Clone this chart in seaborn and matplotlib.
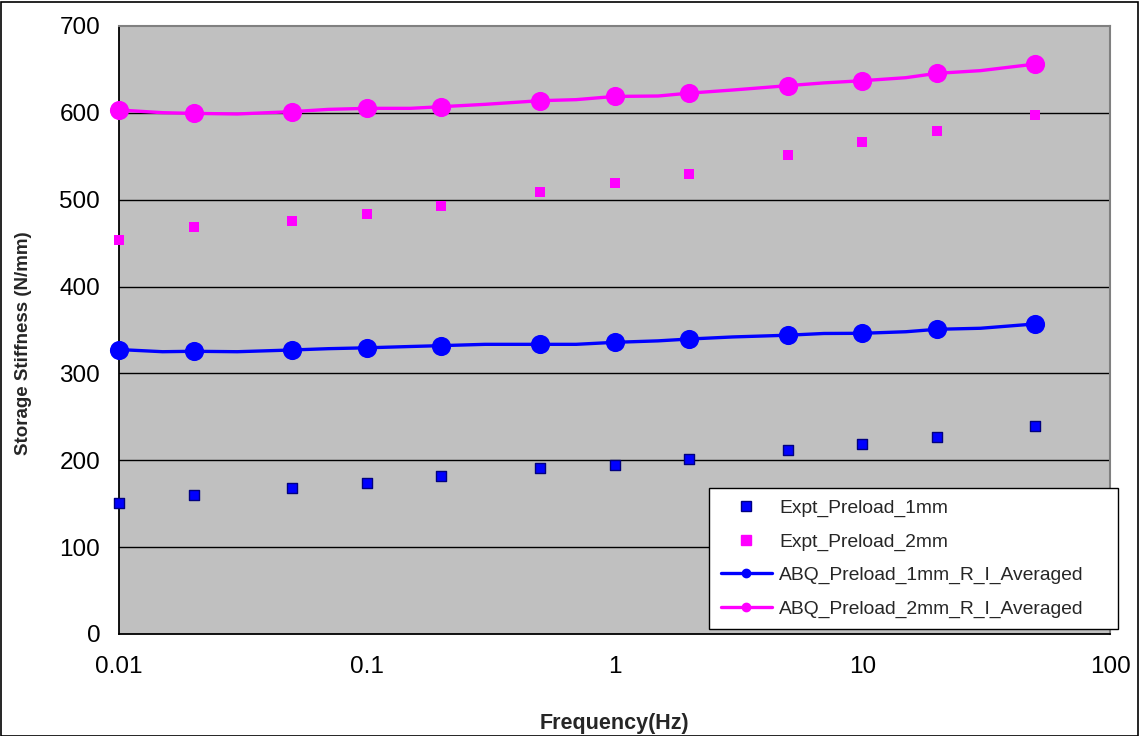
import matplotlib
matplotlib.use("Agg")
import matplotlib.pyplot as plt
import seaborn as sns
import pandas as pd
from matplotlib.lines import Line2D
from matplotlib.patches import Rectangle
from matplotlib.ticker import FixedLocator, FixedFormatter, NullLocator

# ---------------- data ----------------
expt_freq = [0.01, 0.02, 0.05, 0.1, 0.2, 0.5, 1, 2, 5, 10, 20, 50]
expt_1mm = [151, 160, 168, 174, 182, 191, 195, 201, 212, 219, 227, 239]
expt_2mm = [454, 469, 475, 484, 493, 509, 519, 530, 551, 566, 579, 598]

abq_freq = [0.01, 0.015, 0.02, 0.03, 0.05, 0.07, 0.1, 0.15, 0.2, 0.3, 0.5, 0.7,
            1, 1.5, 2, 3, 5, 7, 10, 15, 20, 30, 50]
abq_1mm = [327.5, 325, 325.5, 325, 327, 328.5, 329.5, 331, 332, 333.5, 333.5, 333.5,
           335.8, 337.5, 339.6, 342, 344, 346, 346.2, 348, 350.8, 352, 357]
abq_2mm = [603.3, 600.2, 599.4, 598.7, 601.4, 604, 605.2, 605.2, 607.1, 609.8, 614, 615.2,
           618.9, 619.4, 622.7, 626.3, 631.3, 634.5, 637, 640.5, 645.5, 648.6, 656.2]
abq_marker_freq = [0.01, 0.02, 0.05, 0.1, 0.2, 0.5, 1, 2, 5, 10, 20, 50]

x_ticks = [0.01, 0.1, 1, 10, 100]
x_ticklabels = ["0.01", "0.1", "1", "10", "100"]
y_ticks = [0, 100, 200, 300, 400, 500, 600, 700]

labels = ["Expt_Preload_1mm", "Expt_Preload_2mm",
          "ABQ_Preload_1mm_R_I_Averaged", "ABQ_Preload_2mm_R_I_Averaged"]

BLUE = "#0000FF"
MAG = "#FF00FF"

# ---------------- figure ----------------
sns.set_style("white")
plt.rcParams["font.family"] = ["Liberation Sans", "DejaVu Sans"]

fig = plt.figure(figsize=(11.39, 7.36), dpi=100)
fig.subplots_adjust(left=119 / 1139, right=1110 / 1139, top=1 - 26 / 736, bottom=1 - 634 / 736)
ax = fig.add_subplot(111)
ax.set_facecolor("#C0C0C0")
ax.set_xscale("log")

df_abq = pd.DataFrame({"f": abq_freq, "a1": abq_1mm, "a2": abq_2mm})
df_abq_m = df_abq[df_abq["f"].isin(abq_marker_freq)]
df_exp = pd.DataFrame({"f": expt_freq, "e1": expt_1mm, "e2": expt_2mm})

# ABQ lines
sns.lineplot(data=df_abq, x="f", y="a1", ax=ax, color=BLUE, lw=2.4, zorder=3, legend=False)
sns.lineplot(data=df_abq, x="f", y="a2", ax=ax, color=MAG, lw=2.4, zorder=3, legend=False)
sns.scatterplot(data=df_abq_m, x="f", y="a1", ax=ax, color=BLUE, marker="o", s=190,
                edgecolor=BLUE, linewidth=0, zorder=4, legend=False, clip_on=False)
sns.scatterplot(data=df_abq_m, x="f", y="a2", ax=ax, color=MAG, marker="o", s=190,
                edgecolor=MAG, linewidth=0, zorder=4, legend=False, clip_on=False)

# Expt squares
sns.scatterplot(data=df_exp, x="f", y="e1", ax=ax, color=BLUE, marker="s", s=60,
                edgecolor="#000080", linewidth=1.0, zorder=4, legend=False, clip_on=False)
sns.scatterplot(data=df_exp, x="f", y="e2", ax=ax, color=MAG, marker="s", s=60,
                edgecolor=MAG, linewidth=0, zorder=4, legend=False, clip_on=False)

ax.set_xlim(0.01, 100)
ax.set_ylim(0, 700)
ax.xaxis.set_major_locator(FixedLocator(x_ticks))
ax.xaxis.set_major_formatter(FixedFormatter(x_ticklabels))
ax.xaxis.set_minor_locator(NullLocator())
ax.set_yticks(y_ticks)
ax.set_yticklabels([str(v) for v in y_ticks])

for v in y_ticks[1:-1]:
    ax.axhline(v, color="black", lw=1.0, zorder=1)

for side in ["left", "bottom"]:
    ax.spines[side].set_color("black")
    ax.spines[side].set_linewidth(1.3)
for side in ["top", "right"]:
    ax.spines[side].set_visible(True)
    ax.spines[side].set_color("#808080")
    ax.spines[side].set_linewidth(1.5)

ax.tick_params(axis="both", which="major", direction="out", length=5, width=1,
               color="black", labelsize=17.5, labelcolor="black")
ax.tick_params(axis="x", pad=11)
ax.tick_params(axis="y", pad=8.5)

ax.set_xlabel("Frequency(Hz)", fontsize=15.5, fontweight="bold")
ax.set_ylabel("Storage Stiffness (N/mm)", fontsize=13.5, fontweight="bold")
ax.xaxis.set_label_coords(0.5, (634 - 713) / 608)
ax.yaxis.set_label_coords((32 - 119) / 991, (634 - 343) / 608)

handles = [
    Line2D([], [], ls="none", marker="s", markersize=6.5, markerfacecolor=BLUE,
           markeredgecolor="#000080", markeredgewidth=1),
    Line2D([], [], ls="none", marker="s", markersize=6.5, markerfacecolor=MAG,
           markeredgecolor=MAG),
    Line2D([], [], color=BLUE, lw=2.4, marker="o", markersize=6),
    Line2D([], [], color=MAG, lw=2.4, marker="o", markersize=6),
]
leg = fig.legend(handles, labels, loc="upper left",
                 bbox_to_anchor=(709 / 1139, (736 - 630) / 736, 409 / 1139, 142 / 736),
                 mode="expand",
                 fontsize=13.9, frameon=True, fancybox=False, shadow=False,
                 handlelength=2.64, handletextpad=0.4, labelspacing=0.82,
                 borderpad=0.6, borderaxespad=0)
leg.get_frame().set_edgecolor("black")
leg.get_frame().set_linewidth(1.0)
leg.get_frame().set_facecolor("white")
leg.get_frame().set_alpha(1)

fig.patches.append(Rectangle((0.5 / 1139, 0.5 / 736), 1 - 2 / 1139, 1 - 2 / 736,
                             transform=fig.transFigure, fill=False,
                             edgecolor="black", lw=1.2, zorder=10))

fig.savefig("out.png", dpi=100)
